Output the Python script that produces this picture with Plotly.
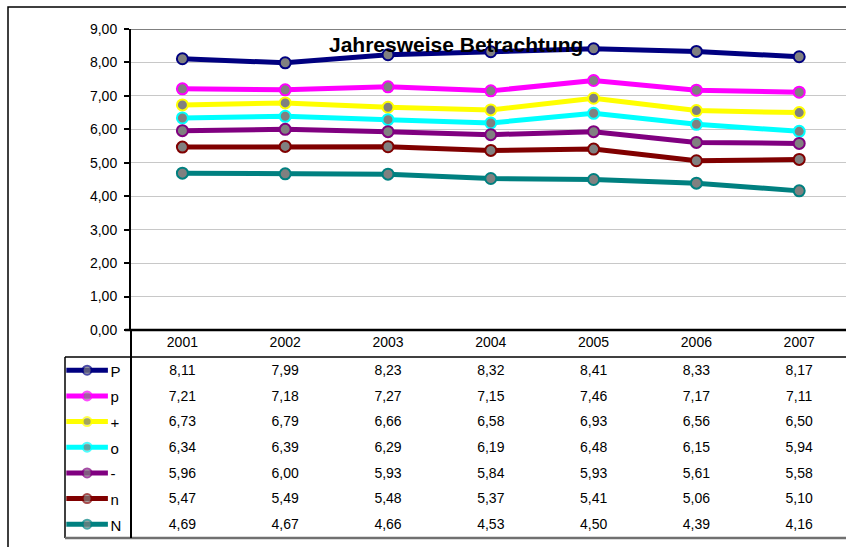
import plotly.graph_objects as go

years = ["2001", "2002", "2003", "2004", "2005", "2006", "2007"]
series_names = ["P", "p", "+", "o", "-", "n", "N"]
P_vals = [8.11, 7.99, 8.23, 8.32, 8.41, 8.33, 8.17]
p_vals = [7.21, 7.18, 7.27, 7.15, 7.46, 7.17, 7.11]
plus_vals = [6.73, 6.79, 6.66, 6.58, 6.93, 6.56, 6.50]
o_vals = [6.34, 6.39, 6.29, 6.19, 6.48, 6.15, 5.94]
minus_vals = [5.96, 6.00, 5.93, 5.84, 5.93, 5.61, 5.58]
n_vals = [5.47, 5.49, 5.48, 5.37, 5.41, 5.06, 5.10]
N_vals = [4.69, 4.67, 4.66, 4.53, 4.50, 4.39, 4.16]
colors = ["#000080", "#FF00FF", "#FFFF00", "#00FFFF", "#800080", "#800000", "#008080"]
title_text = "Jahresweise Betrachtung"

all_vals = [P_vals, p_vals, plus_vals, o_vals, minus_vals, n_vals, N_vals]

W, H = 846, 547
def px(x):
    return x / W
def py(y):
    return 1 - y / H

FONT = "Liberation Sans, Arial, sans-serif"
FS = 14
fig = go.Figure()

# main lines
for name, vals, col in zip(series_names, all_vals, colors):
    fig.add_trace(go.Scatter(
        x=years, y=vals, mode="lines+markers", name=name,
        line=dict(color=col, width=5),
        marker=dict(size=11, color="#808080", line=dict(color=col, width=2)),
        xaxis="x", yaxis="y", showlegend=False, hoverinfo="skip"))

# table: header row of years
fig.add_trace(go.Scatter(
    x=years, y=[-0.1] * len(years), mode="text", text=years,
    textfont=dict(family=FONT, size=FS, color="black"),
    xaxis="x2", yaxis="y2", showlegend=False, hoverinfo="skip"))

# table: values
for i, vals in enumerate(all_vals):
    fig.add_trace(go.Scatter(
        x=years, y=[i + 1] * len(years), mode="text",
        text=[f"{v:.2f}".replace(".", ",") for v in vals],
        textfont=dict(family=FONT, size=FS, color="black"),
        xaxis="x2", yaxis="y2", showlegend=False, hoverinfo="skip"))

# legend keys
for i, (name, col) in enumerate(zip(series_names, colors)):
    fig.add_trace(go.Scatter(
        x=[0.02, 0.335, 0.65], y=[i + 0.95] * 3, mode="lines+markers",
        line=dict(color=col, width=5),
        marker=dict(size=[0, 9, 0], color="#808080", line=dict(color=col, width=2)),
        xaxis="x3", yaxis="y2", showlegend=False, hoverinfo="skip"))
    fig.add_trace(go.Scatter(
        x=[0.69], y=[i + 1.05], mode="text", text=[name], textposition="middle right",
        textfont=dict(family=FONT, size=FS + 1, color="black"),
        xaxis="x3", yaxis="y2", showlegend=False, hoverinfo="skip", cliponaxis=False))

xr = [-0.5, -0.5 + (W - 131) / 102.8]

shapes = [
    # outer border
    dict(type="rect", xref="paper", yref="paper", x0=px(8), x1=1.2, y0=-0.2, y1=py(7),
         line=dict(color="black", width=1.5)),
    # plot top border
    dict(type="line", xref="paper", yref="y", x0=px(131), x1=1.1, y0=9, y1=9,
         line=dict(color="#808080", width=2)),
    # x axis line
    dict(type="line", xref="paper", yref="paper", x0=px(125), x1=1.1, y0=py(330), y1=py(330),
         line=dict(color="black", width=2.5)),
    # header separator
    dict(type="line", xref="paper", yref="paper", x0=px(65), x1=1.1, y0=py(357), y1=py(357),
         line=dict(color="black", width=1.5)),
    # table left border
    dict(type="line", xref="paper", yref="paper", x0=px(65), x1=px(65), y0=py(357), y1=py(538),
         line=dict(color="black", width=1.5)),
    # table bottom
    dict(type="line", xref="paper", yref="paper", x0=px(65), x1=1.1, y0=py(538), y1=py(538),
         line=dict(color="#707070", width=2.5)),
    # vertical continuation of y axis through table
    dict(type="line", xref="paper", yref="paper", x0=px(131), x1=px(131), y0=py(330), y1=py(538),
         line=dict(color="black", width=2)),
]

hidden = dict(showgrid=False, showticklabels=False, ticks="", zeroline=False,
              showline=False, automargin=False)

fig.update_layout(
    template="none",
    width=W, height=H, margin=dict(l=0, r=0, t=0, b=0, pad=0, autoexpand=False),
    paper_bgcolor="white", plot_bgcolor="white",
    separators=",.",
    font=dict(family=FONT, size=FS, color="black"),
    xaxis=dict(domain=[px(131), 1], anchor="y", type="category", range=xr, **hidden),
    yaxis=dict(domain=[py(330), py(29)], anchor="x", range=[0, 9], dtick=1,
               tickformat=".2f", showgrid=True, gridcolor="#c8c8c8", gridwidth=1,
               zeroline=False, showline=True, linecolor="black", linewidth=2,
               ticks="outside", ticklen=5, tickcolor="black", tickwidth=1.5,
               ticklabelstandoff=4, automargin=False,
               tickfont=dict(family=FONT, size=FS, color="black")),
    xaxis2=dict(domain=[px(131), 1], anchor="y2", type="category", range=xr, **hidden),
    yaxis2=dict(domain=[py(538), py(330)], anchor="x2", range=[7.487, -0.617], **hidden),
    xaxis3=dict(domain=[px(65), px(131)], anchor="y2", range=[0, 1], **hidden),
    shapes=shapes,
    annotations=[dict(text="<b>" + title_text + "</b>", xref="paper", yref="paper",
                      x=px(456), y=py(45), xanchor="center", yanchor="middle",
                      showarrow=False, font=dict(family=FONT, size=21, color="black"))],
)

fig.write_html("out.html", config={"displayModeBar": False},
               post_script="document.body.style.margin='0';document.body.style.overflow='hidden';")
